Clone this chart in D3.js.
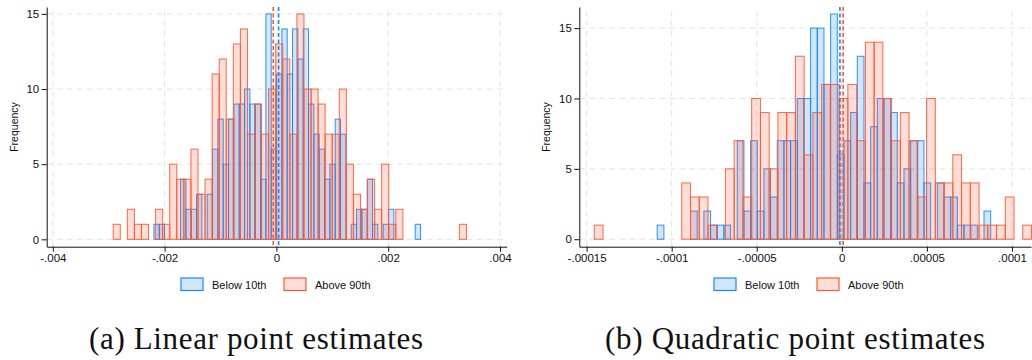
<!DOCTYPE html>
<html>
<head>
<meta charset="utf-8">
<script src="https://cdn.jsdelivr.net/npm/d3@7"></script>
<style>
  body { margin: 0; background: #fff; }
  svg { display: block; }
</style>
</head>
<body>
<svg id="chart" width="1032" height="360"></svg>
<script>
// ── Data ──────────────────────────────────────────────────────
// histogram bins: first bin edge, bin width, counts per bin
const linBelowStart = -0.002192, linBelowWidth = 0.0000954;
const linBelowCounts = [1,1,0,0,0,4,2,2,3,0,3,6,8,5,8,9,9,10,9,9,4,15,6,11,14,11,14,12,14,9,7,6,4,5,8,7,0,1,2,2,4,1,0,1,2,0,0,0,0,1];
const linAboveStart = -0.00292, linAboveWidth = 0.0001264;
const linAboveCounts = [1,0,2,1,1,0,2,1,5,4,4,6,3,4,11,12,8,13,14,7,9,7,10,13,12,7,15,10,10,9,7,7,10,5,3,2,4,2,5,1,2,0,0,0,0,0,0,0,0,1];

const quadBelowStart = -0.0001085, quadBelowWidth = 0.00000392;
const quadBelowCounts = [1,0,0,0,0,2,0,2,1,1,1,0,7,2,7,2,5,3,7,7,7,10,10,15,15,11,16,6,7,9,13,4,8,10,10,9,4,5,7,7,4,0,4,3,3,1,1,1,0,2];
const quadAboveStart = -0.0001455, quadAboveWidth = 0.00000514;
const quadAboveCounts = [1,0,0,0,0,0,0,0,0,0,4,3,3,1,0,5,7,3,10,9,5,9,9,13,6,9,11,11,10,11,7,14,14,10,7,9,7,3,10,4,4,6,4,4,1,1,1,3,0,1];

// dashed reference lines (below, above)
const linMeans = [0.000039, -0.000057];
const quadMeans = [-0.0000011, 0.0000008];

const linTicks = [-0.004, -0.002, 0, 0.002, 0.004];
const linTickLabels = ['-.004', '-.002', '0', '.002', '.004'];
const quadTicks = [-0.00015, -0.0001, -0.00005, 0, 0.00005, 0.0001];
const quadTickLabels = ['-.00015', '-.0001', '-.00005', '0', '.00005', '.0001'];
const freqTicks = [0, 5, 10, 15];

const seriesNames = ['Below 10th', 'Above 90th'];
const captions = ['(a) Linear point estimates', '(b) Quadratic point estimates'];

// ── Style ─────────────────────────────────────────────────────
const COLORS = [
  { stroke: '#1a85ff', fill: 'rgba(26,133,255,0.2)' },   // below 10th
  { stroke: '#fc5a32', fill: 'rgba(252,90,50,0.2)' }     // above 90th
];
const SANS = '"Liberation Sans", Arial, Helvetica, sans-serif';
const SERIF = '"Liberation Serif", "DejaVu Serif", serif';

const svg = d3.select('#chart');
svg.append('rect').attr('width', 1032).attr('height', 360).attr('fill', '#fff');

const panels = [
  {
    xRange: [46.7, 506.7], xDomain: [-0.00411, 0.00412],
    yDomain: [-0.49, 15.46],
    ticks: linTicks, tickLabels: linTickLabels,
    series: [
      { start: linBelowStart, width: linBelowWidth, counts: linBelowCounts },
      { start: linAboveStart, width: linAboveWidth, counts: linAboveCounts }
    ],
    means: linMeans,
    ylabelX: 14, legendX: 181, caption: captions[0], captionX: 256, captionW: 334
  },
  {
    xRange: [579.3, 1031], xDomain: [-0.0001543, 0.0001112],
    yDomain: [-0.53, 16.5],
    ticks: quadTicks, tickLabels: quadTickLabels,
    series: [
      { start: quadBelowStart, width: quadBelowWidth, counts: quadBelowCounts },
      { start: quadAboveStart, width: quadAboveWidth, counts: quadAboveCounts }
    ],
    means: quadMeans,
    ylabelX: 546.7, legendX: 714, caption: captions[1], captionX: 795, captionW: 380
  }
];

panels.forEach(drawPanel);

function drawPanel(p) {
  const x = d3.scaleLinear().domain(p.xDomain).range(p.xRange);
  const y = d3.scaleLinear().domain(p.yDomain).range([246.7, 7]);
  const g = svg.append('g');

  // grid
  const grid = g.append('g')
    .attr('stroke', '#e4e4e4').attr('stroke-width', 1).attr('stroke-dasharray', '6,4');
  freqTicks.forEach(t => {
    grid.append('line')
      .attr('x1', p.xRange[0]).attr('x2', p.xRange[1])
      .attr('y1', y(t)).attr('y2', y(t));
  });
  p.ticks.forEach(t => {
    grid.append('line')
      .attr('x1', x(t)).attr('x2', x(t))
      .attr('y1', y.range()[0]).attr('y2', y.range()[1]);
  });

  // histogram bars (blue first, orange drawn on top)
  p.series.forEach((s, si) => {
    const bins = s.counts
      .map((c, i) => ({ x0: s.start + i * s.width, x1: s.start + (i + 1) * s.width, c }))
      .filter(d => d.c > 0);
    g.append('g').selectAll('rect').data(bins).join('rect')
      .attr('x', d => x(d.x0))
      .attr('width', d => x(d.x1) - x(d.x0))
      .attr('y', d => y(d.c))
      .attr('height', d => y(0) - y(d.c))
      .attr('fill', COLORS[si].fill)
      .attr('stroke', COLORS[si].stroke)
      .attr('stroke-opacity', 0.9)
      .attr('stroke-width', 1);
  });

  // dashed mean lines
  p.means.forEach((m, si) => {
    g.append('line')
      .attr('x1', x(m)).attr('x2', x(m))
      .attr('y1', 7).attr('y2', 247)
      .attr('stroke', COLORS[si].stroke)
      .attr('stroke-width', 1.6)
      .attr('stroke-dasharray', '4,2.5');
  });

  // axes
  const yAxis = g.append('g')
    .attr('transform', `translate(${p.xRange[0]},0)`)
    .call(d3.axisLeft(y).tickValues(freqTicks).tickSize(5).tickSizeOuter(0).tickPadding(2.5));
  const xAxis = g.append('g')
    .attr('transform', `translate(0,246.7)`)
    .call(d3.axisBottom(x).tickValues(p.ticks).tickSize(5).tickSizeOuter(0).tickPadding(2)
      .tickFormat((d, i) => p.tickLabels[i]));
  [yAxis, xAxis].forEach(a => {
    a.attr('font-family', SANS).attr('font-size', 11.5);
    a.selectAll('text').attr('fill', '#111');
    a.selectAll('line, path').attr('stroke', '#111');
  });

  g.append('text')
    .attr('transform', `translate(${p.ylabelX},127) rotate(-90)`)
    .attr('text-anchor', 'middle').attr('dy', '0.35em')
    .attr('font-family', SANS).attr('font-size', 10.5).attr('fill', '#111')
    .text('Frequency');

  // legend
  const lg = g.append('g').attr('transform', `translate(${p.legendX},278)`);
  seriesNames.forEach((name, i) => {
    const ox = i * 103;
    lg.append('rect')
      .attr('x', ox).attr('y', 0).attr('width', 22).attr('height', 12.5)
      .attr('fill', COLORS[i].fill).attr('stroke', COLORS[i].stroke).attr('stroke-width', 1.2);
    lg.append('text')
      .attr('x', ox + 31).attr('y', 10.5)
      .attr('font-family', SANS).attr('font-size', 11).attr('fill', '#111')
      .text(name);
  });

  // caption
  g.append('text')
    .attr('x', p.captionX).attr('y', 349)
    .attr('text-anchor', 'middle')
    .attr('font-family', SERIF).attr('font-size', 31).attr('fill', '#111')
    .attr('textLength', p.captionW).attr('lengthAdjust', 'spacing')
    .text(p.caption);
}
</script>
</body>
</html>
